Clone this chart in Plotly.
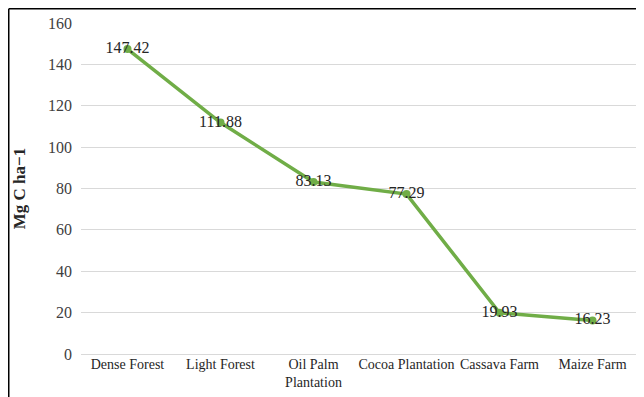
import plotly.graph_objects as go

categories = ["Dense Forest", "Light Forest", "Oil Palm<br>Plantation", "Cocoa Plantation", "Cassava Farm", "Maize Farm"]
values = [147.42, 111.88, 83.13, 77.29, 19.93, 16.23]
labels = ["147.42", "111.88", "83.13", "77.29", "19.93", "16.23"]
y_ticks = [0, 20, 40, 60, 80, 100, 120, 140, 160]

# page body has an 8px margin, so the figure is a bit smaller than the window
W, H = 636, 389
L, R, T, B = 73, 5, 15, 43
pw, ph = W - L - R, H - T - B

fig = go.Figure()
fig.add_trace(go.Scatter(
    x=categories, y=values, mode="lines+markers+text",
    line=dict(color="#70AD47", width=3.5),
    marker=dict(color="#70AD47", size=8),
    text=labels, textposition="middle center",
    textfont=dict(family="Liberation Serif", size=16, color="#262626"),
    cliponaxis=False, showlegend=False,
))

# frame lines (top and left) of the picture
x0 = (-L + 0.75) / pw
ytop = (ph + T - 0.75) / ph
ybot = -B / ph
fig.add_shape(type="line", xref="paper", yref="paper", x0=x0, x1=(W - L) / pw, y0=ytop, y1=ytop,
              line=dict(color="black", width=1.5))
fig.add_shape(type="line", xref="paper", yref="paper", x0=x0, x1=x0, y0=ytop, y1=ybot,
              line=dict(color="black", width=1.5))

fig.update_layout(
    width=W, height=H,
    margin=dict(l=L, r=R, t=T, b=B),
    paper_bgcolor="white", plot_bgcolor="white",
    font=dict(family="Liberation Serif", color="#404040"),
    xaxis=dict(showgrid=False, showline=False, ticks="", tickfont=dict(family="Liberation Serif", size=14, color="#262626"),
               tickangle=0, range=[-0.5, 5.5]),
    yaxis=dict(range=[0, 160], tickvals=y_ticks, showgrid=True, gridcolor="#D9D9D9", gridwidth=1,
               zeroline=True, zerolinecolor="#D9D9D9", zerolinewidth=1, showline=False,
               tickfont=dict(family="Liberation Serif", size=16, color="#404040"), ticklabelstandoff=8,
               title=dict(text="<b>Mg C ha\u22121</b>", font=dict(family="Liberation Serif", size=17, color="#262626"), standoff=18)),
)

fig.write_html("out.html")
